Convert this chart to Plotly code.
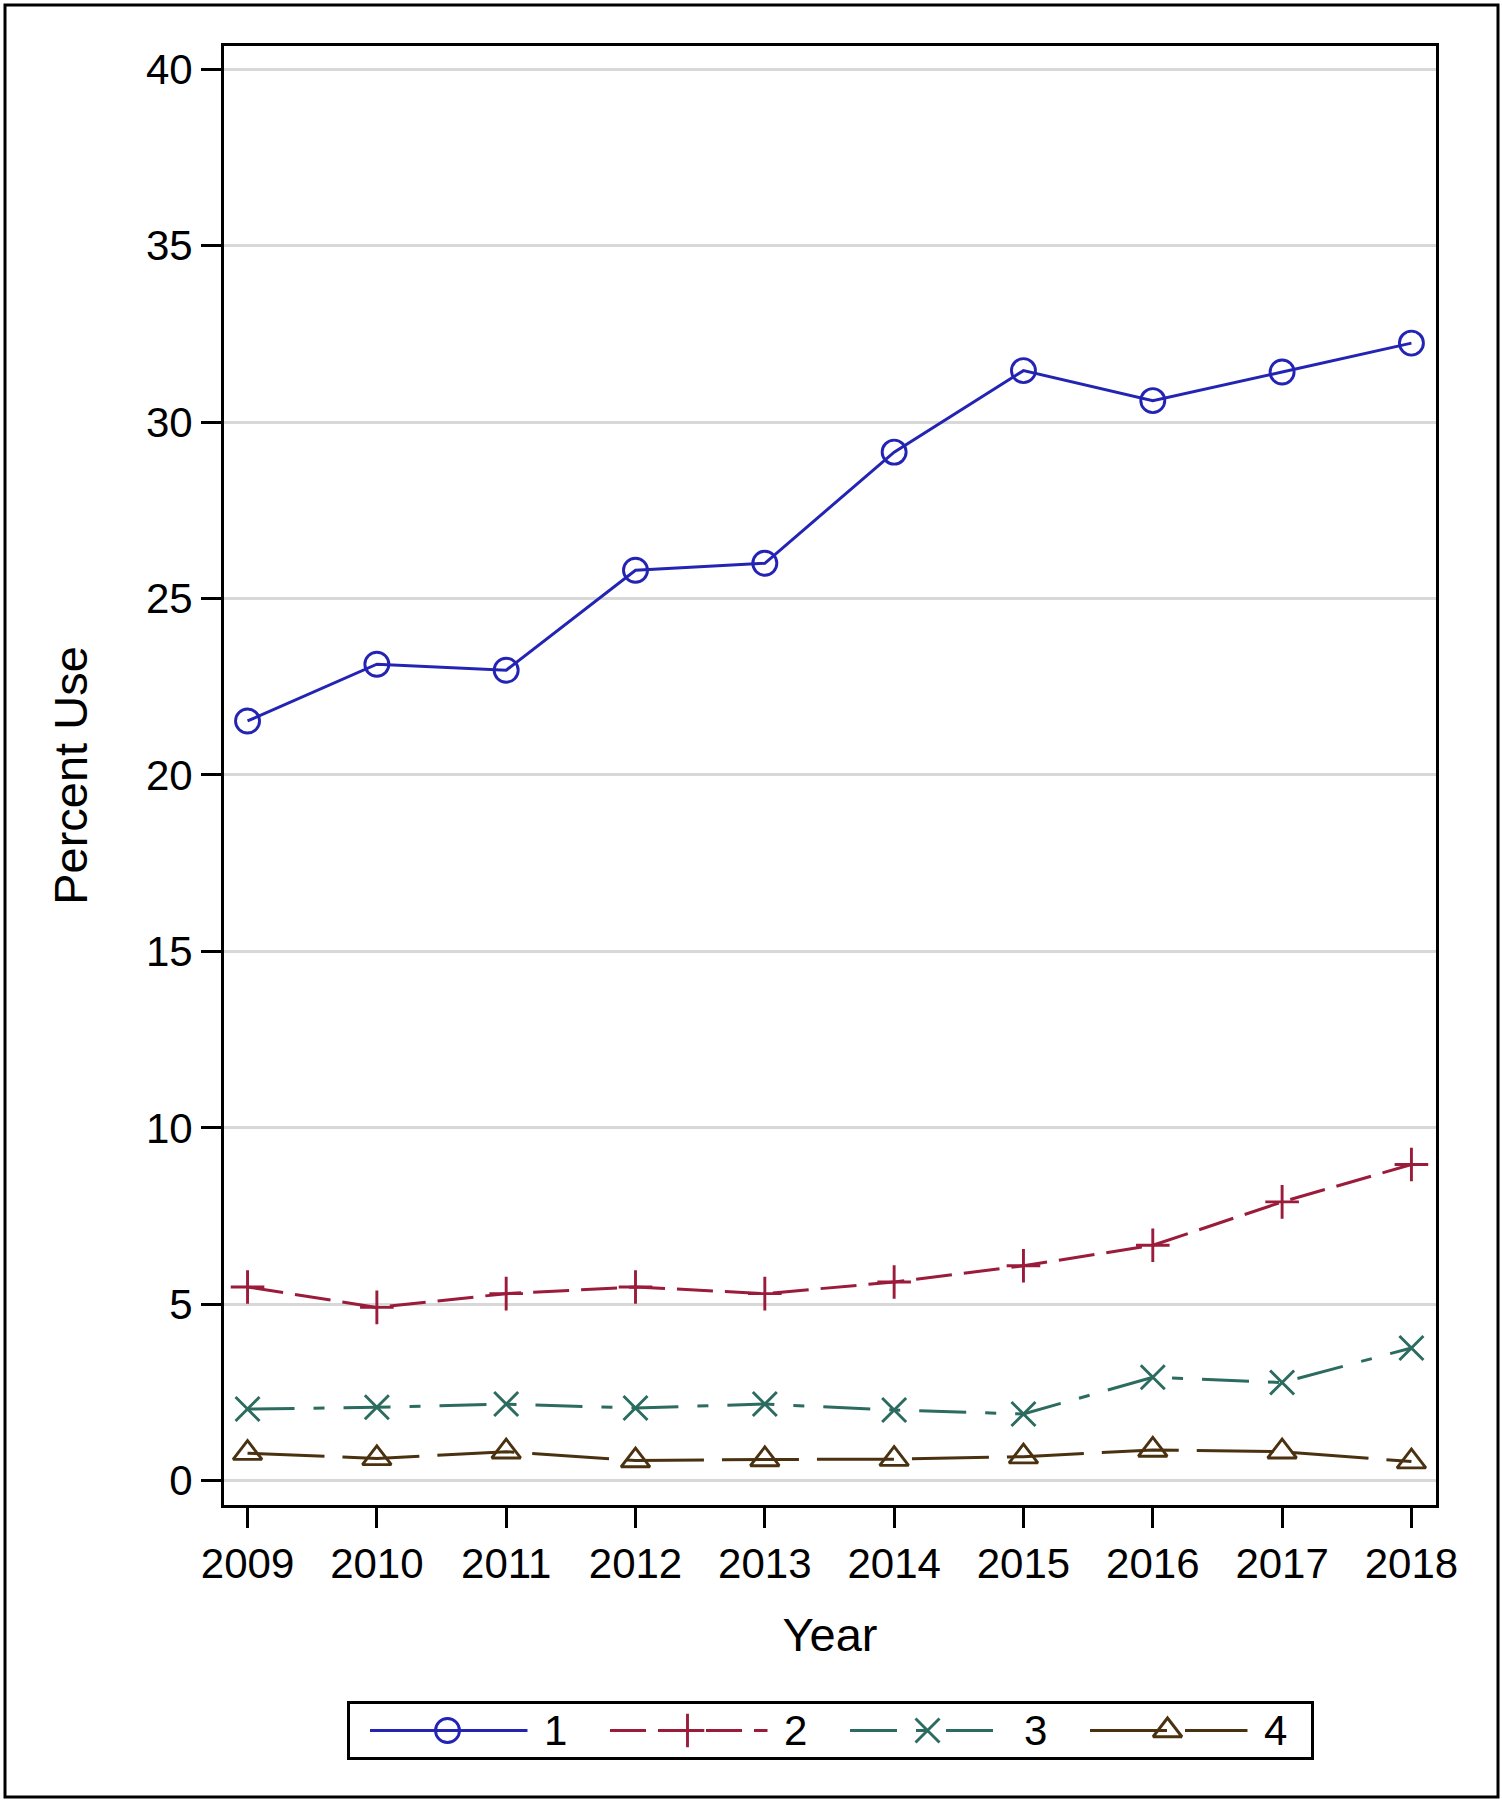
import plotly.graph_objects as go

# ---------------- data ----------------
years = [2009, 2010, 2011, 2012, 2013, 2014, 2015, 2016, 2017, 2018]
series_names = ["1", "2", "3", "4"]
s1 = [21.53, 23.14, 22.97, 25.80, 26.00, 29.15, 31.46, 30.61, 31.42, 32.24]
s2 = [5.49, 4.91, 5.30, 5.49, 5.30, 5.63, 6.09, 6.67, 7.90, 8.96]
s3 = [2.03, 2.08, 2.17, 2.06, 2.17, 2.00, 1.89, 2.93, 2.78, 3.76]
s4 = [0.78, 0.63, 0.82, 0.57, 0.60, 0.61, 0.68, 0.87, 0.82, 0.54]
y_ticks = [0, 5, 10, 15, 20, 25, 30, 35, 40]
x_title = "Year"
y_title = "Percent Use"

# ---------------- styles ----------------
W, H = 1502, 1800
FONT = "Liberation Sans, Arial, sans-serif"
colors = ["#2424b4", "#9b1b3a", "#2b6b60", "#4a3210"]
dashes = ["solid", "36px,12px", "47px,19px,11px,19px", "77px,18px"]
symbols = ["circle-open", "cross-thin-open", "x-thin-open", "triangle-up-open"]
msizes = [24, 24, 24, 25]
LW = 3
MLW = 2.9
TICK_FONT = 42
TITLE_FONT = 47

def fx(p):
    return p / W

def fy(p):
    return 1 - p / H

fig = go.Figure()

all_series = [s1, s2, s3, s4]
for name, vals, c, d, sym, ms in zip(series_names, all_series, colors, dashes, symbols, msizes):
    fig.add_trace(go.Scatter(
        x=years, y=vals, name=name, mode="lines+markers",
        line=dict(color=c, width=LW, dash=d),
        marker=dict(symbol=sym, size=ms, color=c, line=dict(color=c, width=MLW)),
        showlegend=False, xaxis="x", yaxis="y",
    ))

# ---------------- custom legend (own small axes) ----------------
LEG_W = 961.5
PERIOD = 240
L_START, L_END, L_MARK, L_TEXT = 20.5, 178, 98, 206
for i, (name, c, d, sym, ms) in enumerate(zip(series_names, colors, dashes, symbols, msizes)):
    off = i * PERIOD
    fig.add_trace(go.Scatter(
        x=[L_START + off, L_END + off], y=[0.5, 0.5], mode="lines",
        line=dict(color=c, width=LW, dash=d), showlegend=False,
        xaxis="x2", yaxis="y2", hoverinfo="skip"))
    fig.add_trace(go.Scatter(
        x=[L_MARK + off], y=[0.5], mode="markers",
        marker=dict(symbol=sym, size=ms, color=c, line=dict(color=c, width=MLW)),
        showlegend=False, xaxis="x2", yaxis="y2", hoverinfo="skip"))
    fig.add_annotation(x=L_TEXT + off, y=0.5, xref="x2", yref="y2", text=name,
                       showarrow=False, font=dict(family=FONT, size=TICK_FONT, color="black"),
                       xanchor="center", yanchor="middle")

fig.update_layout(
    width=W, height=H, autosize=False,
    margin=dict(l=0, r=0, t=0, b=0, pad=0),
    paper_bgcolor="white", plot_bgcolor="white",
    showlegend=False,
    font=dict(family=FONT, color="black"),
    xaxis=dict(
        domain=[fx(224), fx(1436)], anchor="y", automargin=False,
        range=[2008.818, 2018.19],
        tickvals=years, ticktext=[str(y) for y in years],
        ticks="outside", ticklen=20, tickwidth=3, tickcolor="black",
        tickfont=dict(family=FONT, size=TICK_FONT, color="black"),
        showline=True, linecolor="black", linewidth=3, mirror=True,
        showgrid=False, zeroline=False,
        title=dict(text=x_title, font=dict(family=FONT, size=TITLE_FONT, color="black"), standoff=32),
    ),
    yaxis=dict(
        domain=[fy(1505), fy(46)], anchor="x", automargin=False,
        range=[-0.69, 40.66],
        tickvals=y_ticks,
        ticks="outside", ticklen=20, tickwidth=3, tickcolor="black",
        tickfont=dict(family=FONT, size=TICK_FONT, color="black"),
        showline=True, linecolor="black", linewidth=3, mirror=True,
        showgrid=True, gridcolor="#d8d8d8", gridwidth=2.5, zeroline=False,
        title=dict(text=y_title, font=dict(family=FONT, size=TITLE_FONT, color="black"), standoff=44),
    ),
    xaxis2=dict(
        domain=[fx(349.5), fx(1311)], anchor="y2", range=[0, LEG_W], automargin=False,
        showline=True, linecolor="black", linewidth=3, mirror=True,
        showgrid=False, zeroline=False, showticklabels=False, ticks="", fixedrange=True,
    ),
    yaxis2=dict(
        domain=[fy(1757), fy(1704)], anchor="x2", range=[0, 1], automargin=False,
        showline=True, linecolor="black", linewidth=3, mirror=True,
        showgrid=False, zeroline=False, showticklabels=False, ticks="", fixedrange=True,
    ),
)

# outer figure border
fig.add_shape(type="rect", xref="paper", yref="paper",
              x0=fx(5), x1=fx(1498), y0=fy(1797), y1=fy(5),
              line=dict(color="black", width=3), fillcolor="rgba(0,0,0,0)", layer="above")

fig.write_html(
    "out.html",
    config={"responsive": False, "displayModeBar": False},
    post_script="document.body.style.margin='0';document.body.style.overflow='hidden';",
)
